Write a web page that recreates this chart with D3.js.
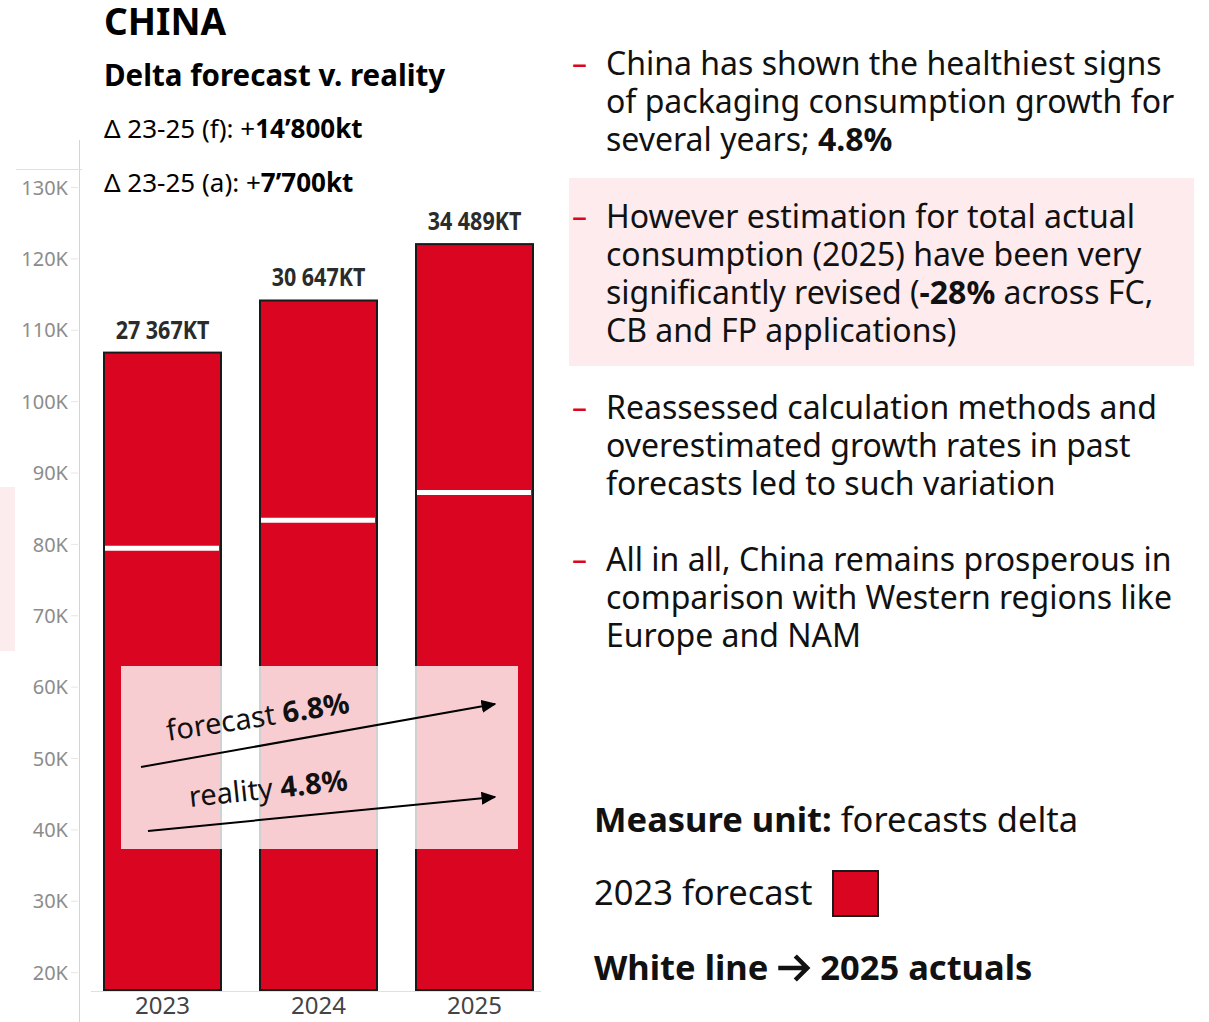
<!DOCTYPE html>
<html>
<head>
<meta charset="utf-8">
<script src="https://cdn.jsdelivr.net/npm/d3@7"></script>
<style>
  html, body { margin: 0; padding: 0; background: #fff; }
  svg { display: block; font-family: "Noto Sans", "Open Sans", sans-serif; }
</style>
</head>
<body>
<svg width="1209" height="1022"></svg>
<script>
// chart values
const years = ["2023", "2024", "2025"];
const forecastValues = [106800, 114100, 122000];   // bar height on the axis
const actualValues = [79400, 83300, 87200];        // white line (2025 actuals)
const barLabels = ["27 367KT", "30 647KT", "34 489KT"];
const yTicks = [20000, 30000, 40000, 50000, 60000, 70000, 80000, 90000, 100000, 110000, 120000, 130000];

const red = "#da0520"

const svg = d3.select("svg")

const x = d3.scaleBand()
    .domain(years)
    .range([65, 572])
    .paddingInner(0.25)
    .paddingOuter(0.25)

const y = d3.scaleLinear()
    .domain([17500, 130000])
    .range([990, 187])

// faint pink strip on the far left
svg.append("rect").attr("x", 0).attr("y", 487).attr("width", 15).attr("height", 164).attr("fill", "#fdecee")

// pink highlight box behind the 2nd bullet
svg.append("rect").attr("x", 569).attr("y", 178).attr("width", 625).attr("height", 188).attr("fill", "#fdebed")

// y axis
const yAxis = svg.append("g")
    .attr("transform", "translate(78,0)")
    .call(d3.axisLeft(y).tickValues(yTicks).tickSize(7).tickPadding(3).tickFormat(d => d / 1000 + "K"))
yAxis.select(".domain").remove()
yAxis.selectAll("line").attr("stroke", "#e6e6e6")
yAxis.selectAll("text")
    .attr("font-family", "Noto Sans")
    .attr("font-size", 20)
    .attr("fill", "#8c8c8c")
    .attr("dy", "0.36em")

svg.append("line").attr("x1", 79.5).attr("x2", 79.5).attr("y1", 140).attr("y2", 1022).attr("stroke", "#d4d4d4")
svg.append("line").attr("x1", 16).attr("x2", 82).attr("y1", 169.5).attr("y2", 169.5).attr("stroke", "#e0e0e0")
svg.append("line").attr("x1", 91).attr("x2", 541).attr("y1", 991.5).attr("y2", 991.5).attr("stroke", "#e0e0e0")

// bars
svg.append("g")
  .selectAll("rect")
  .data(years)
  .join("rect")
    .attr("x", d => x(d))
    .attr("y", (d, i) => y(forecastValues[i]))
    .attr("width", x.bandwidth())
    .attr("height", (d, i) => y(17500) - y(forecastValues[i]))
    .attr("fill", red)
    .attr("stroke", "#1a1a1a")
    .attr("stroke-width", 2)

// white actuals lines
svg.append("g")
  .selectAll("line")
  .data(years)
  .join("line")
    .attr("x1", d => x(d) + 1)
    .attr("x2", d => x(d) + x.bandwidth() - 2)
    .attr("y1", (d, i) => y(actualValues[i]))
    .attr("y2", (d, i) => y(actualValues[i]))
    .attr("stroke", "#fff")
    .attr("stroke-width", 5)

// value labels above bars (narrowed, like the condensed original)
svg.append("g")
  .selectAll("text")
  .data(years)
  .join("text")
    .attr("transform", (d, i) => `translate(${x(d) + x.bandwidth() / 2},${y(forecastValues[i]) - 14}) scale(0.86,1)`)
    .attr("text-anchor", "middle")
    .attr("font-size", 25)
    .attr("font-weight", "bold")
    .attr("fill", "#2b2b2b")
    .text((d, i) => barLabels[i])

// x labels
svg.append("g")
  .selectAll("text")
  .data(years)
  .join("text")
    .attr("x", d => x(d) + x.bandwidth() / 2)
    .attr("y", 1014)
    .attr("text-anchor", "middle")
    .attr("font-size", 24)
    .attr("fill", "#444")
    .text(d => d)

// growth annotation box (white veil over the bars)
svg.append("rect").attr("x", 121).attr("y", 666).attr("width", 397).attr("height", 183)
    .attr("fill", "#fff").attr("opacity", 0.8)

svg.append("defs").append("marker")
    .attr("id", "head")
    .attr("viewBox", "0 0 10 10")
    .attr("refX", 9).attr("refY", 5)
    .attr("markerWidth", 15).attr("markerHeight", 13)
    .attr("markerUnits", "userSpaceOnUse")
    .attr("orient", "auto")
    .attr("preserveAspectRatio", "none")
  .append("path").attr("d", "M0,0L10,5L0,10Z").attr("fill", "#000")

const arrows = [
  {x1: 141, y1: 767, x2: 495, y2: 704},
  {x1: 148, y1: 831, x2: 495, y2: 797}
]
svg.append("g").selectAll("line").data(arrows).join("line")
    .attr("x1", d => d.x1).attr("y1", d => d.y1)
    .attr("x2", d => d.x2).attr("y2", d => d.y2)
    .attr("stroke", "#000").attr("stroke-width", 2)
    .attr("marker-end", "url(#head)")

const growth = [
  {label: "forecast ", pct: "6.8%", x: 168, y: 741, angle: -8.8},
  {label: "reality ", pct: "4.8%", x: 190, y: 807, angle: -6}
]
growth.forEach(g => {
  const t = svg.append("text")
      .attr("transform", `translate(${g.x},${g.y}) rotate(${g.angle})`)
      .attr("font-size", 29)
      .attr("fill", "#111")
  t.append("tspan").text(g.label)
  t.append("tspan").attr("font-weight", "bold").text(g.pct)
})

// header
svg.append("text").attr("x", 104).attr("y", 35).attr("font-size", 37).attr("font-weight", "bold").text("CHINA")
svg.append("text").attr("x", 104).attr("y", 86).attr("font-size", 29.5).attr("font-weight", "bold").text("Delta forecast v. reality")

const deltas = [["Δ 23-25 (f): +", "14’800kt", 138], ["Δ 23-25 (a): +", "7’700kt", 192]]
deltas.forEach(([a, b, yy]) => {
  const t = svg.append("text").attr("x", 104).attr("y", yy).attr("font-size", 26)
  t.append("tspan").text(a)
  t.append("tspan").attr("font-weight", "bold").text(b)
})

// bullet points on the right
const bullets = [
  {y: 75, lines: [[["China has shown the healthiest signs"]], [["of packaging consumption growth for"]], [["several years; "], ["4.8%", true]]]},
  {y: 228, lines: [[["However estimation for total actual"]], [["consumption (2025) have been very"]], [["significantly revised ("], ["-28%", true], [" across FC,"]], [["CB and FP applications)"]]]},
  {y: 419, lines: [[["Reassessed calculation methods and"]], [["overestimated growth rates in past"]], [["forecasts led to such variation"]]]},
  {y: 571, lines: [[["All in all, China remains prosperous in"]], [["comparison with Western regions like"]], [["Europe and NAM"]]]}
]
bullets.forEach(b => {
  svg.append("text").attr("x", 572).attr("y", b.y - 1).attr("font-size", 30).attr("fill", red).text("–")
  b.lines.forEach((line, i) => {
    const t = svg.append("text").attr("x", 606).attr("y", b.y + i * 38).attr("font-size", 32).attr("fill", "#111")
    line.forEach(([s, bold]) => t.append("tspan").attr("font-weight", bold ? "bold" : null).text(s))
  })
})

// legend
const m = svg.append("text").attr("x", 594).attr("y", 832).attr("font-size", 34.5).attr("fill", "#111")
m.append("tspan").attr("font-weight", "bold").text("Measure unit:")
m.append("tspan").text(" forecasts delta")

svg.append("text").attr("x", 594).attr("y", 905).attr("font-size", 34.5).attr("fill", "#111").text("2023 forecast")
svg.append("rect").attr("x", 833).attr("y", 871).attr("width", 45).attr("height", 45)
    .attr("fill", red).attr("stroke", "#1a1a1a").attr("stroke-width", 2)

// "White line → 2025 actuals" with a drawn chevron arrow
const w1 = svg.append("text").attr("x", 594).attr("y", 980).attr("font-size", 34.5).attr("font-weight", "bold").attr("fill", "#111")
    .text("White line")
const ax = 594 + w1.node().getComputedTextLength() + 10
svg.append("path")
    .attr("d", `M${ax},968 H${ax + 28} M${ax + 17},956 L${ax + 29},968 L${ax + 17},980`)
    .attr("fill", "none").attr("stroke", "#111").attr("stroke-width", 4.5)
    .attr("stroke-linejoin", "miter").attr("stroke-linecap", "butt")
svg.append("text").attr("x", ax + 42).attr("y", 980).attr("font-size", 34.5).attr("font-weight", "bold").attr("fill", "#111")
    .text("2025 actuals")
</script>
</body>
</html>
